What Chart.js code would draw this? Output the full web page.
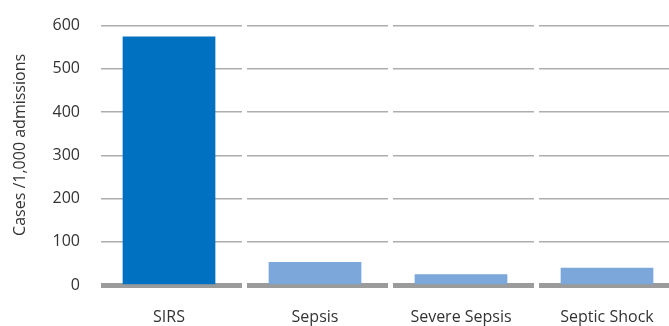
<!DOCTYPE html>
<html>
<head>
<meta charset="utf-8">
<script src="https://cdn.jsdelivr.net/npm/chart.js@4/dist/chart.umd.min.js"></script>
<style>
  html, body { margin: 0; padding: 0; background: #fff; overflow: hidden; }
  #wrap { width: 680px; height: 326px; }
</style>
</head>
<body>
<div id="wrap"><canvas id="c" width="680" height="326"></canvas></div>
<script>
const categories = ["SIRS", "Sepsis", "Severe Sepsis", "Septic Shock"];
const casesPer1000 = [575, 53, 25, 40];
const yTicks = [0, 100, 200, 300, 400, 500, 600];
const barColors = ["#0070c0", "#7ba7da", "#7ba7da", "#7ba7da"];

const FONT = "'Open Sans', sans-serif";

const gapPlugin = {
  id: 'gaps',
  afterDraw(chart) {
    const x = chart.scales.x;
    const area = chart.chartArea;
    const n = categories.length;
    const w = (x.right - x.left) / n;
    const ctx = chart.ctx;
    ctx.save();
    ctx.fillStyle = '#ffffff';
    for (let i = 0; i < n; i++) {
      const bx = x.left + i * w;
      const start = i === 0 ? bx - 4 : bx;
      ctx.fillRect(start, area.top - 4, bx + 5 - start, area.bottom - area.top + 12);
    }
    ctx.restore();
  }
};

new Chart(document.getElementById('c'), {
  type: 'bar',
  data: {
    labels: categories,
    datasets: [{
      data: casesPer1000,
      backgroundColor: barColors,
      borderWidth: 0,
      barPercentage: 0.635,
      categoryPercentage: 1.0
    }]
  },
  options: {
    responsive: false,
    animation: false,
    devicePixelRatio: 1,
    layout: { padding: { top: 23, right: 0, left: 0, bottom: 0 } },
    plugins: { legend: { display: false }, tooltip: { enabled: false } },
    scales: {
      x: {
        z: 1,
        grid: { display: false },
        border: { display: true, color: '#9b9b9b', width: 5 },
        ticks: { color: '#333', font: { family: FONT, size: 16 }, padding: 15, maxRotation: 0 },
        afterFit(s) { s.height = 41; }
      },
      y: {
        min: 0,
        max: 600,
        afterBuildTicks(s) { s.ticks = yTicks.map(v => ({ value: v })); },
        grid: {
          drawTicks: false,
          color: (c) => c.tick && c.tick.value === 0 ? 'rgba(0,0,0,0)' : '#adadad',
          lineWidth: 1.5
        },
        border: { display: false },
        ticks: { color: '#333', font: { family: FONT, size: 16 }, padding: 16 },
        title: {
          display: true,
          text: '\u00a0\u00a0\u00a0\u00a0\u00a0Cases /1,000 admissions',
          color: '#333',
          font: { family: FONT, size: 16 },
          padding: { top: 11, bottom: 0 }
        },
        afterFit(s) { s.width = 96; }
      }
    }
  },
  plugins: [gapPlugin]
});
</script>
</body>
</html>
